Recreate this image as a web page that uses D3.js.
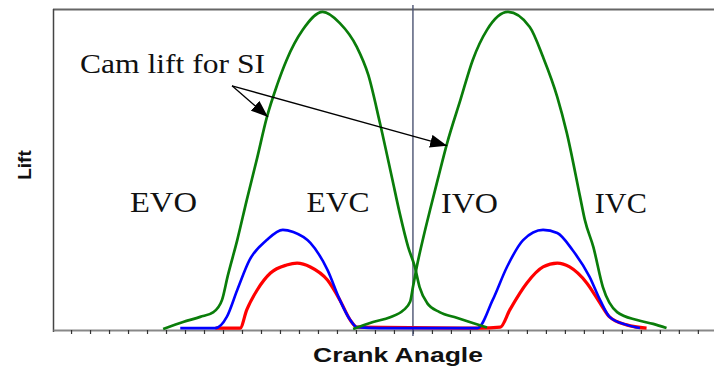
<!DOCTYPE html>
<html>
<head>
<meta charset="utf-8">
<script src="https://cdn.jsdelivr.net/npm/d3@7/dist/d3.min.js"></script>
<style>
  html, body { margin: 0; padding: 0; background: #fff; }
  svg { display: block; }
</style>
</head>
<body>
<div id="chart"></div>
<script>
// crank angle (deg, TDC = 360) vs lift (mm)
const exhaustCam = [
  [97, 0.03], [118, 0.25], [136, 0.41], [150, 0.56], [159, 0.94], [165, 1.69],
  [175, 2.81], [185, 4.06], [196, 5.38], [206, 6.63], [217, 7.66], [227, 8.44],
  [244, 9.38], [265, 9.94], [283, 9.59], [301, 8.84], [313, 7.97], [325, 6.5],
  [338, 4.75], [346, 3.66], [355, 2.59], [362, 1.97], [367, 1.34], [375, 0.84],
  [388, 0.56], [406, 0.38], [423, 0.22], [438, 0.08]
];
const intakeCam = [
  [297, 0.03], [318, 0.25], [336, 0.4], [350, 0.62], [357, 0.88], [360, 1.34],
  [364, 1.97], [371, 2.9], [378, 3.75], [386, 4.69], [396, 5.84], [410, 7.19],
  [423, 8.44], [438, 9.38], [460, 9.94], [483, 9.47], [497, 8.53], [512, 7.28],
  [522, 6.16], [536, 4.16], [541, 3.44], [550, 2.59], [560, 1.34], [575, 0.56],
  [596, 0.31], [613, 0.19], [627, 0.06]
];
const valveBlue = [
  [115, 0.06], [152, 0.06], [164, 0.41], [175, 1.25], [188, 2.19], [206, 2.81],
  [223, 3.13], [234, 3.06], [252, 2.72], [270, 1.88], [283, 0.94], [294, 0.31],
  [301, 0.09], [325, 0.06], [428, 0.06], [444, 0.94], [459, 1.97], [476, 2.81],
  [497, 3.13], [512, 3.03], [528, 2.5], [546, 1.66], [557, 0.94], [567, 0.41],
  [585, 0.16], [599, 0.06]
];
const valveRed = [
  [152, 0.06], [178, 0.06], [185, 0.63], [196, 1.25], [210, 1.78], [227, 2.03],
  [238, 2.09], [252, 1.97], [270, 1.56], [283, 0.94], [294, 0.31], [301, 0.09],
  [430, 0.06], [452, 0.09], [462, 0.63], [480, 1.47], [497, 1.97], [512, 2.09],
  [525, 1.97], [543, 1.47], [557, 0.84], [567, 0.41], [585, 0.16], [606, 0.06]
];
const angleTicks = d3.range(0, 661, 20);
const tdcAngle = 360;

// annotations: [text, angle, lift, width in px]
const phaseLabels = [
  ['EVO', 62, 3.7, 67], ['EVC', 248, 3.7, 63], ['IVO', 389.5, 3.66, 57], ['IVC', 551.5, 3.66, 52]
];
const noteText = 'Cam lift for SI';
const noteAnchor = [169.5, 7.63];
const noteTargets = [[207.4, 6.66], [396, 5.76]];

const width = 714;
const height = 368;

const x = d3.scaleLinear().domain([-19, 677]).range([53, 714]);
const y = d3.scaleLinear().domain([0, 10]).range([330, 10]);

const svg = d3.select('#chart').append('svg')
  .attr('width', width)
  .attr('height', height);

svg.append('defs').append('marker')
  .attr('id', 'head')
  .attr('markerUnits', 'userSpaceOnUse')
  .attr('viewBox', '0 0 17 13')
  .attr('refX', 17).attr('refY', 6.5)
  .attr('markerWidth', 17).attr('markerHeight', 13)
  .attr('orient', 'auto')
  .append('path')
  .attr('d', 'M0,0 L17,6.5 L0,13 Z')
  .attr('fill', '#000');

// frame: top and left
svg.append('line')
  .attr('x1', x(-19)).attr('x2', width)
  .attr('y1', 9.5).attr('y2', 9.5)
  .attr('stroke', '#666').attr('stroke-width', 2);
svg.append('line')
  .attr('x1', 53.5).attr('x2', 53.5)
  .attr('y1', 9).attr('y2', 332)
  .attr('stroke', '#444').attr('stroke-width', 1.5);

// crank angle axis
const xAxis = svg.append('g')
  .attr('transform', `translate(0, ${y(0)})`)
  .call(d3.axisBottom(x).tickValues(angleTicks).tickFormat('').tickSize(4).tickSizeOuter(0));
xAxis.select('.domain').attr('stroke', '#888').attr('stroke-width', 2.2);
xAxis.selectAll('.tick line').attr('stroke', '#333').attr('stroke-width', 1.2);

// TDC line
svg.append('line')
  .attr('x1', x(tdcAngle)).attr('x2', x(tdcAngle))
  .attr('y1', 5).attr('y2', 336)
  .attr('stroke', '#4b5472').attr('stroke-width', 1.4);

const line = d3.line()
  .x(d => x(d[0]))
  .y(d => y(d[1]))
  .curve(d3.curveMonotoneX);

const series = [
  {data: valveRed, color: '#ff0000', w: 3.2},
  {data: valveBlue, color: '#0000ff', w: 2.6},
  {data: exhaustCam, color: '#0a7d0a', w: 2.7},
  {data: intakeCam, color: '#0a7d0a', w: 2.7}
];

svg.selectAll('path.curve')
  .data(series)
  .enter().append('path')
  .attr('class', 'curve')
  .attr('d', d => line(d.data))
  .attr('fill', 'none')
  .attr('stroke', d => d.color)
  .attr('stroke-width', d => d.w)
  .attr('stroke-linejoin', 'round');

// phase labels
svg.selectAll('text.phase')
  .data(phaseLabels)
  .enter().append('text')
  .attr('class', 'phase')
  .attr('x', d => x(d[1]))
  .attr('y', d => y(d[2]))
  .attr('textLength', d => d[3])
  .attr('lengthAdjust', 'spacingAndGlyphs')
  .attr('font-family', '"Liberation Serif", "Times New Roman", serif')
  .attr('font-size', 30)
  .attr('fill', '#111')
  .text(d => d[0]);

// note with arrows
svg.append('text')
  .attr('x', 80)
  .attr('y', 73)
  .attr('textLength', 185)
  .attr('lengthAdjust', 'spacingAndGlyphs')
  .attr('font-family', '"Liberation Serif", "Times New Roman", serif')
  .attr('font-size', 27)
  .attr('fill', '#111')
  .text(noteText);

svg.selectAll('line.arrow')
  .data(noteTargets)
  .enter().append('line')
  .attr('class', 'arrow')
  .attr('x1', x(noteAnchor[0])).attr('y1', y(noteAnchor[1]))
  .attr('x2', d => x(d[0])).attr('y2', d => y(d[1]))
  .attr('stroke', '#000').attr('stroke-width', 1.3)
  .attr('marker-end', 'url(#head)');

// axis titles
svg.append('text')
  .attr('transform', 'translate(31, 165) rotate(-90)')
  .attr('text-anchor', 'middle')
  .attr('font-family', 'Arial, "Liberation Sans", sans-serif')
  .attr('font-weight', 'bold')
  .attr('font-size', 19)
  .attr('fill', '#111')
  .text('Lift');

svg.append('text')
  .attr('x', 313)
  .attr('y', 362)
  .attr('textLength', 170)
  .attr('lengthAdjust', 'spacingAndGlyphs')
  .attr('font-family', 'Arial, "Liberation Sans", sans-serif')
  .attr('font-weight', 'bold')
  .attr('font-size', 20)
  .attr('fill', '#111')
  .text('Crank Anagle');
</script>
</body>
</html>
